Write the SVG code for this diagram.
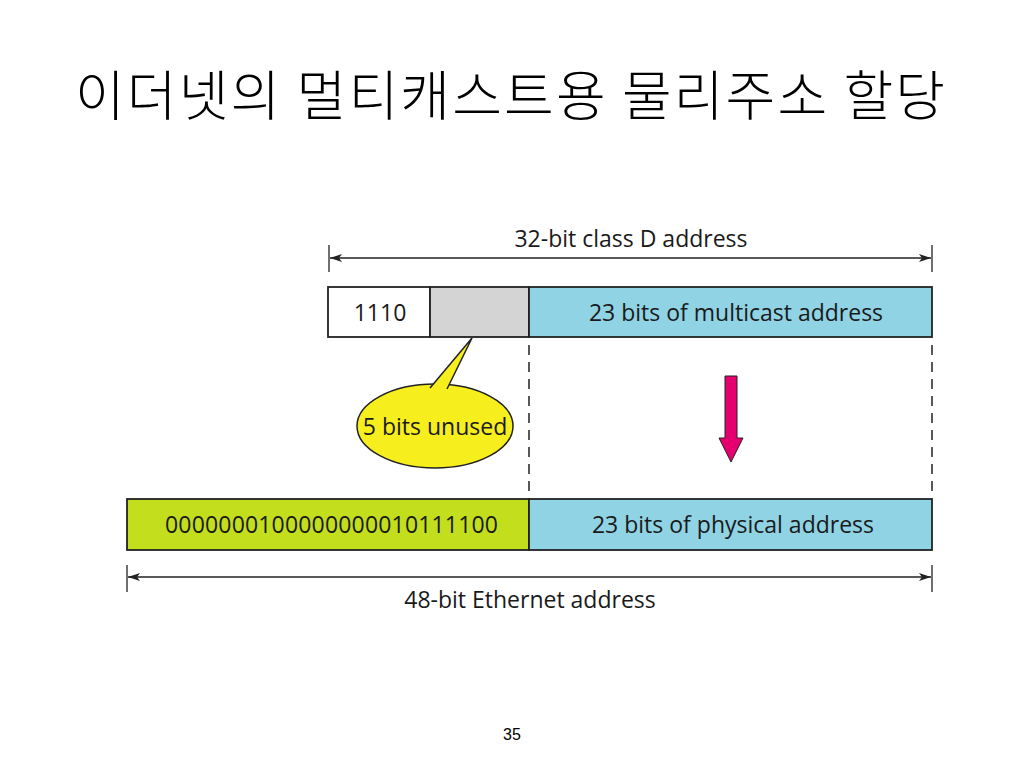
<svg xmlns="http://www.w3.org/2000/svg" width="1024" height="768" viewBox="0 0 1024 768">
<defs>
<style>
.lbl{font-family:"Open Sans","Liberation Sans",sans-serif;font-size:23px;fill:#1a1a1a}
.box{stroke:#222;stroke-width:1.8}
.dim{stroke:#222;stroke-width:1.3;fill:none}
.dash{stroke:#222;stroke-width:1.5;stroke-dasharray:10,7;fill:none}
</style>
<marker id="ah" viewBox="0 0 12 8" refX="12" refY="4" markerWidth="12" markerHeight="8" markerUnits="userSpaceOnUse" orient="auto-start-reverse">
<path d="M0,0 L12,4 L0,8 L3,4 Z" fill="#222"/>
</marker>
</defs>
<rect width="1024" height="768" fill="#fff"/>
<text x="75" y="116" font-family="'Noto Sans CJK KR','Noto Sans',sans-serif" font-size="54" font-weight="300" fill="#000" textLength="870">이더넷의 멀티캐스트용 물리주소 할당</text>

<g id="dim-top">
<line class="dim" x1="329" y1="245" x2="329" y2="272"/>
<line class="dim" x1="932" y1="245" x2="932" y2="272"/>
<text class="lbl" x="631" y="247" text-anchor="middle">32-bit class D address</text>
</g>
<g id="field-1110">
<rect class="box" x="328" y="287" width="102" height="50" fill="#fff"/>
<text class="lbl" x="380" y="321" text-anchor="middle">1110</text>
</g>
<g id="field-unused">
<rect class="box" x="430" y="287" width="99" height="50" fill="#d4d4d4"/>
</g>
<g id="field-multicast">
<rect class="box" x="529" y="287" width="403" height="50" fill="#8fd3e4"/>
<text class="lbl" x="736" y="321" text-anchor="middle">23 bits of multicast address</text>
</g>
<g id="callout">
<path d="M357,426 A78,42 0 1 1 513,426 A78,42 0 1 1 357,426 Z" fill="#f7ee1e" stroke="#222" stroke-width="1.5"/>
<path d="M430,388 L472,338 L447,389 Z" fill="#f7ee1e" stroke="none"/>
<path d="M430,388 L472,338 L447,389" fill="none" stroke="#222" stroke-width="1.5"/>
<text class="lbl" x="435" y="435" text-anchor="middle">5 bits unused</text>
</g>
<g id="arrow-down">
<path d="M725,376 L737,376 L737,438 L743,438 L731,462 L719,438 L725,438 Z" fill="#e6006f" stroke="#222" stroke-width="1"/>
</g>
<g id="field-prefix">
<rect class="box" x="127" y="499" width="402" height="51" fill="#c2de1c"/>
<text class="lbl" x="165" y="533" textLength="333">0000000100000000010111100</text>
</g>
<g id="field-physical">
<rect class="box" x="529" y="499" width="403" height="51" fill="#8fd3e4"/>
<text class="lbl" x="733" y="533" text-anchor="middle">23 bits of physical address</text>
</g>
<g id="dim-bottom">
<line class="dim" x1="127" y1="565" x2="127" y2="592"/>
<line class="dim" x1="932" y1="565" x2="932" y2="592"/>
<text class="lbl" x="530" y="608" text-anchor="middle">48-bit Ethernet address</text>
</g>
<g id="connectors">
<line class="dim" x1="330" y1="258" x2="931" y2="258" marker-start="url(#ah)" marker-end="url(#ah)"/>
<line class="dim" x1="128" y1="577" x2="931" y2="577" marker-start="url(#ah)" marker-end="url(#ah)"/>
<line class="dash" x1="529" y1="345" x2="529" y2="492"/>
<line class="dash" x1="932" y1="345" x2="932" y2="492"/>
</g>
<text x="512" y="740" font-family="'Liberation Sans',sans-serif" font-size="16" fill="#000" text-anchor="middle">35</text>
</svg>
